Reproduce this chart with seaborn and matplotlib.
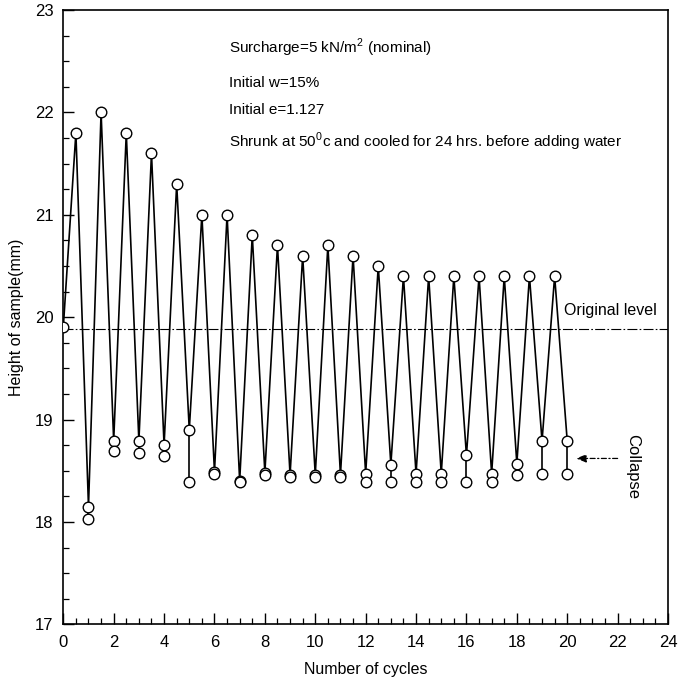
import numpy as np
import pandas as pd
import matplotlib
matplotlib.use("Agg")
import matplotlib.pyplot as plt
import seaborn as sns
from matplotlib.ticker import MultipleLocator

# ---- data ----
start_x = [0.0]
start_y = [19.9]
peak_x = [0.5, 1.5, 2.5, 3.5, 4.5, 5.5, 6.5, 7.5, 8.5, 9.5, 10.5, 11.5, 12.5, 13.5,
          14.5, 15.5, 16.5, 17.5, 18.5, 19.5]
peak_y = [21.8, 22.0, 21.8, 21.6, 21.3, 21.0, 21.0, 20.8, 20.7, 20.6, 20.7, 20.6, 20.5, 20.4,
          20.4, 20.4, 20.4, 20.4, 20.4, 20.4]
trough_x = [1, 2, 3, 4, 5, 6, 7, 8, 9, 10, 11, 12, 13, 14, 15, 16, 17, 18, 19, 20]
trough_upper = [18.15, 18.79, 18.79, 18.75, 18.90, 18.49, 18.40, 18.48, 18.46, 18.46, 18.46,
                18.47, 18.56, 18.47, 18.47, 18.65, 18.47, 18.57, 18.79, 18.79]
trough_lower = [18.03, 18.69, 18.67, 18.64, 18.39, 18.47, 18.39, 18.46, 18.44, 18.44, 18.44,
                18.39, 18.39, 18.39, 18.39, 18.39, 18.39, 18.46, 18.47, 18.47]
original_level = 19.88
x_ticks = [0, 2, 4, 6, 8, 10, 12, 14, 16, 18, 20, 22, 24]
y_ticks = [17, 18, 19, 20, 21, 22, 23]
notes = ["Surcharge=5 kN/m$^2$ (nominal)",
         "Initial w=15%",
         "Initial e=1.127",
         "Shrunk at 50$^0$c and cooled for 24 hrs. before adding water"]

# ---- build tables ----
path_x, path_y = list(start_x), list(start_y)
for px, py, tx, ty in zip(peak_x, peak_y, trough_x, trough_upper):
    path_x += [px, tx]
    path_y += [py, ty]
path = pd.DataFrame({"x": path_x, "y": path_y})

seg = pd.DataFrame({
    "x": list(trough_x) + list(trough_x),
    "y": list(trough_upper) + list(trough_lower),
    "u": list(range(len(trough_x))) * 2,
})

pts = pd.DataFrame({
    "x": start_x + peak_x + trough_x + trough_x,
    "y": start_y + peak_y + trough_upper + trough_lower,
})

# ---- plot ----
sns.set_theme(style="ticks")
plt.rcParams["font.family"] = ["Liberation Sans", "DejaVu Sans"]
plt.rcParams["mathtext.fontset"] = "custom"
plt.rcParams["mathtext.rm"] = "Liberation Sans"

fig = plt.figure(figsize=(6.82, 6.85), dpi=100)
ax = fig.add_axes([0.0928, 0.0886, 0.8867, 0.8968])

sns.lineplot(data=path, x="x", y="y", sort=False, estimator=None, color="black",
             lw=1.2, ax=ax)
sns.lineplot(data=seg, x="x", y="y", units="u", estimator=None, sort=False,
             color="black", lw=1.2, ax=ax)
sns.scatterplot(data=pts, x="x", y="y", s=58, facecolor="white", edgecolor="black",
                linewidth=1.0, zorder=5, ax=ax)

ax.axhline(original_level, color="black", lw=0.8, ls=(0, (9, 2, 1.5, 2)))

ax.set_xlim(0, 24)
ax.set_ylim(17, 23)
ax.set_xticks(x_ticks)
ax.set_yticks(y_ticks)
ax.xaxis.set_minor_locator(MultipleLocator(0.5))
ax.yaxis.set_minor_locator(MultipleLocator(0.25))
ax.tick_params(which="major", direction="in", length=8, width=1, labelsize=12,
               color="black", labelcolor="black")
ax.tick_params(axis="x", which="major", pad=8)
ax.tick_params(axis="y", which="major", pad=7)
ax.tick_params(which="minor", direction="in", length=4.5, width=0.9, color="black")
for s in ax.spines.values():
    s.set_visible(True)
    s.set_color("black")
    s.set_linewidth(1.2)

ax.set_xlabel("Number of cycles", fontsize=11.5, color="black", labelpad=8)
ax.set_ylabel("Height of sample(mm)", fontsize=11.5, color="black", labelpad=8)

note_y = [0.9377, 0.8807, 0.8372, 0.7856]
for t, yy in zip(notes, note_y):
    ax.text(0.2745, yy, t, transform=ax.transAxes, fontsize=11, va="center", ha="left",
            color="black")

ax.text(0.828, 0.5116, "Original level", transform=ax.transAxes, fontsize=11.5,
        va="center", ha="left", color="black")
ax.text(0.942, 0.2577, "Collapse", transform=ax.transAxes, fontsize=12,
        va="center", ha="center", rotation=270, color="black")
ax.annotate("", xy=(20.35, 18.62), xytext=(22.0, 18.62),
            arrowprops=dict(arrowstyle="-|>,head_length=0.5,head_width=0.2",
                            color="black", lw=0.9, linestyle=(0, (4, 2, 1, 2)),
                            shrinkA=0, shrinkB=0))

fig.savefig("out.png", dpi=100)
